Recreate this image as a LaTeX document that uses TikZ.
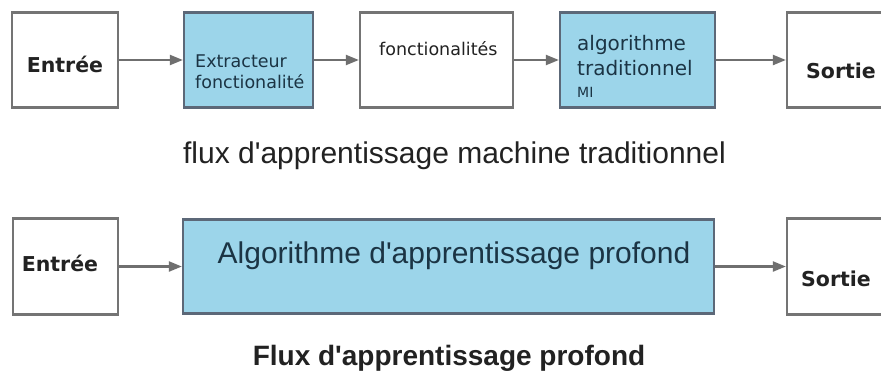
\documentclass[tikz,border=0pt]{standalone}
\usepackage{fontspec}
\setmainfont{Liberation Sans}
\newfontfamily\boxfont{DejaVu Sans}
\usetikzlibrary{arrows.meta}

\definecolor{framegray}{HTML}{747474}
\definecolor{bluefill}{HTML}{9CD5EA}
\definecolor{blueframe}{HTML}{5C6878}
\definecolor{arrowgray}{HTML}{6F6F6F}
\definecolor{inkdark}{HTML}{222222}
\definecolor{inkblue}{HTML}{1B3444}

\newcommand{\apos}{\textquotesingle}

\tikzset{
  plainbox/.style={draw=framegray, line width=2.3pt, fill=white, inner sep=0pt},
  bluebox/.style={draw=blueframe, line width=2.3pt, fill=bluefill, inner sep=0pt},
  flow/.style={draw=arrowgray, line width=2.2pt, -{Triangle[length=13pt,width=10pt]}},
  termtext/.style={font=\boxfont\bfseries\fontsize{20.5}{24}\selectfont, text=inkdark, inner sep=0pt},
  smalltext/.style={font=\boxfont\fontsize{17.5}{21}\selectfont, inner sep=0pt, align=left},
  algtext/.style={font=\boxfont\fontsize{20}{25}\selectfont, inner sep=0pt, align=left, text=inkblue},
  caption/.style={font=\fontsize{30}{34}\selectfont, text=inkdark, inner sep=0pt},
  captionbold/.style={font=\bfseries\fontsize{28}{32}\selectfont, text=inkdark, inner sep=0pt}
}

\begin{document}
\begin{tikzpicture}[x=1pt, y=-1pt]
\useasboundingbox (0,0) rectangle (881,372);
\fill[white] (0,0) rectangle (881,372);
\begin{scope}
\clip (0,0) rectangle (881,372);

% classical machine-learning pipeline
\node[plainbox, minimum width=106pt, minimum height=95pt] (inA)   at (65,60)    {};
\node[bluebox,  minimum width=129pt, minimum height=95pt] (extr)  at (248.5,60) {};
\node[plainbox, minimum width=153pt, minimum height=95pt] (feat)  at (436.5,60) {};
\node[bluebox,  minimum width=155pt, minimum height=95pt] (algo)  at (637.5,60) {};
\node[plainbox, minimum width=103pt, minimum height=95pt] (outA)  at (838.5,60) {};

\draw[flow] (inA) -- (extr);
\draw[flow] (extr) -- (feat);
\draw[flow] (feat) -- (algo);
\draw[flow] (algo) -- (outA);

% the base anchor of a multi-line node sits on its last line
\node[termtext, anchor=base] (inAtxt) at (65,72) {Entrée};
\node[smalltext, text=inkblue, anchor=base west] (extrtxt) at (195,88) {Extracteur\\fonctionalité};
\node[smalltext, text=inkdark, anchor=base west] (feattxt) at (379,55) {fonctionalités};
\node[algtext, anchor=base west] (algotxt) at (577,75) {algorithme\\traditionnel};
\node[font=\boxfont\fontsize{14}{16}\selectfont, text=inkblue, inner sep=0pt, anchor=base west] (mltxt) at (577,97) {MI};
\node[termtext, anchor=base] (outAtxt) at (841,78) {Sortie};

\node[caption, anchor=base] (capA) at (454.5,163) {flux d\apos apprentissage machine traditionnel};

% deep-learning pipeline
\node[plainbox, minimum width=105pt, minimum height=96pt] (inB)   at (65.5,266.5)  {};
\node[bluebox,  minimum width=531pt, minimum height=94pt] (deep)  at (448.5,266.5) {};
\node[plainbox, minimum width=103pt, minimum height=96pt] (outB)  at (838.5,266.5) {};

\draw[flow] (inB) -- (deep);
\draw[flow] (deep) -- (outB);

\node[termtext, anchor=base] (inBtxt) at (60,271) {Entrée};
\node[font=\fontsize{30}{34}\selectfont, text=inkblue, inner sep=0pt, anchor=base] (deeptxt) at (454,263) {Algorithme d\apos apprentissage profond};
\node[termtext, anchor=base] (outBtxt) at (836,286) {Sortie};

\node[captionbold, anchor=base] (capB) at (449,365) {Flux d\apos apprentissage profond};
\end{scope}
\end{tikzpicture}
\end{document}
